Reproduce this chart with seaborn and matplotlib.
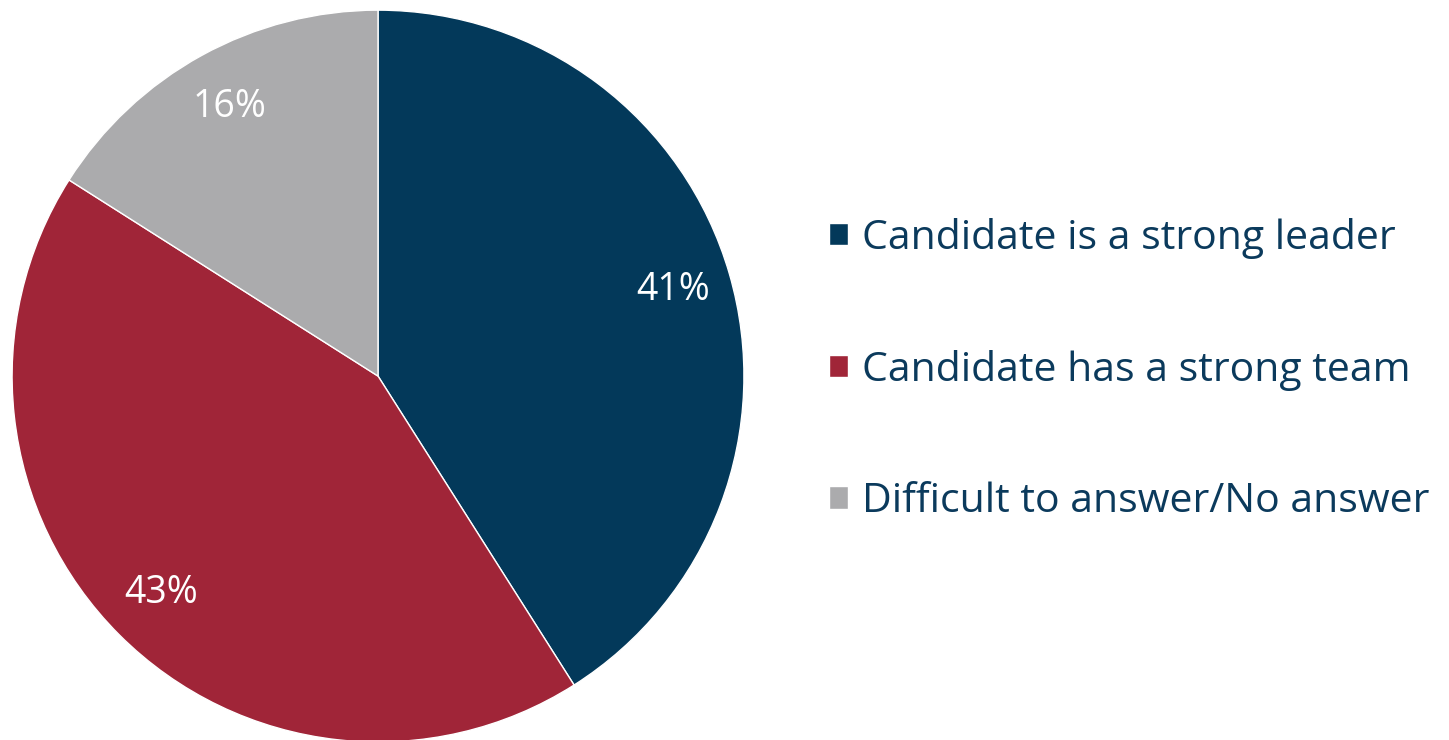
import matplotlib
matplotlib.use("Agg")
import matplotlib.pyplot as plt
import seaborn as sns

sns.set_theme(style="white")
plt.rcParams["font.family"] = ["Open Sans", "DejaVu Sans"]

# data
labels = ["Candidate is a strong leader", "Candidate has a strong team", "Difficult to answer/No answer"]
shares = [41, 43, 16]
colors = ["#03395A", "#A02538", "#ABABAD"]
text_color = "#0B3A5C"

fig = plt.figure(figsize=(14.49, 7.40), dpi=100)
ax = fig.add_axes([0.00828, -0.0027, 0.5052, 0.989])

wedges, texts, autotexts = ax.pie(
    shares, colors=colors, startangle=90, counterclock=False,
    autopct=lambda p: f"{p:.0f}%", pctdistance=0.84,
    wedgeprops=dict(edgecolor="white", linewidth=1),
    textprops=dict(color="white", fontsize=27),
)
ax.set_xlim(-1, 1)
ax.set_ylim(-1, 1)
ax.set_aspect("equal")

fig.legend(wedges, labels, loc="center left", bbox_to_anchor=(0.572, 0.5),
           frameon=False, fontsize=29.5, labelcolor=text_color,
           handlelength=0.47, handleheight=0.47, handletextpad=0.34,
           labelspacing=2.22, borderpad=0, borderaxespad=0)

fig.savefig("out.png", dpi=100)
